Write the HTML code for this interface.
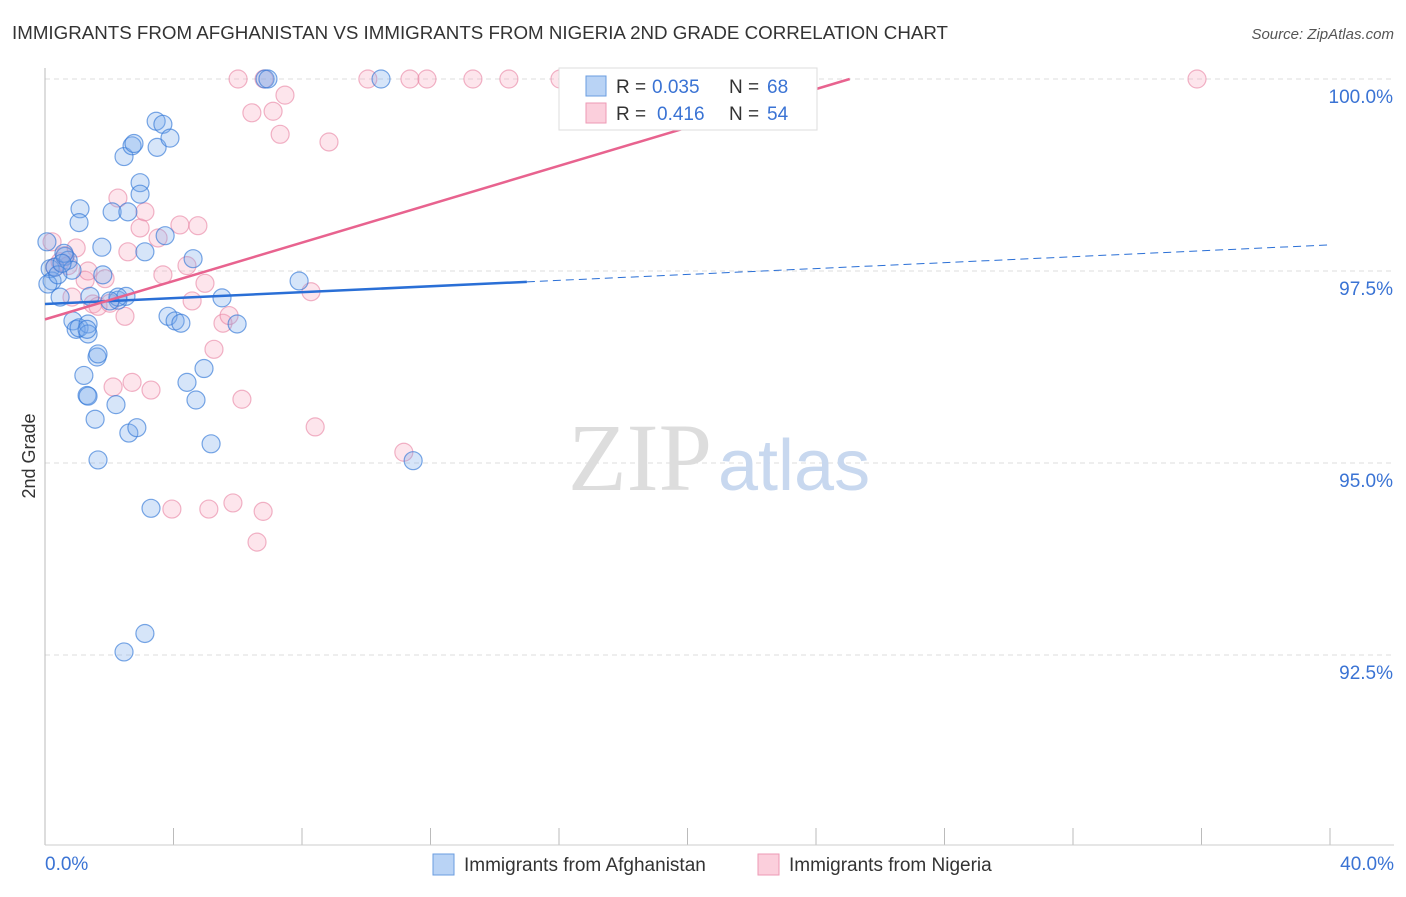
<!DOCTYPE html>
<html><head><meta charset="utf-8"><style>
body{margin:0;background:#fff;font-family:"Liberation Sans",sans-serif}
</style></head><body>
<svg width="1406" height="892" xmlns="http://www.w3.org/2000/svg">
<text x="12" y="39" font-size="18" fill="#333" textLength="936" lengthAdjust="spacingAndGlyphs">IMMIGRANTS FROM AFGHANISTAN VS IMMIGRANTS FROM NIGERIA 2ND GRADE CORRELATION CHART</text>
<text x="1394" y="39" font-size="15" fill="#555" font-style="italic" text-anchor="end">Source: ZipAtlas.com</text>
<g id="grid"></g>
<text x="712" y="490" font-size="96" fill="#ddd" text-anchor="end" font-family="Liberation Serif">ZIP</text>
<text x="718" y="490" font-size="72" fill="#c8d8ef">atlas</text>
<line x1="45" y1="68" x2="45" y2="845" stroke="#bbb"/>
<line x1="45" y1="845" x2="1394" y2="845" stroke="#ccc"/>
<g id="pts"></g>
<g id="lines"></g>
<text x="35" y="456" font-size="18" fill="#333" text-anchor="middle" transform="rotate(-90 35 456)">2nd Grade</text>
<text x="45" y="870" font-size="19" fill="#3a73d4">0.0%</text>
<text x="1394" y="870" font-size="19" fill="#3a73d4" text-anchor="end">40.0%</text>
<g>
<rect x="559" y="68" width="258" height="62" fill="#fff" stroke="#ddd"/>
<rect x="586" y="76" width="20" height="20" fill="#b9d3f5" stroke="#6a9de0"/>
<rect x="586" y="103" width="20" height="20" fill="#fbcfdc" stroke="#ee9ab5"/>
<text x="616" y="93" font-size="19" fill="#333">R =</text>
<text x="652" y="93" font-size="19" fill="#3a73d4">0.035</text>
<text x="729" y="93" font-size="19" fill="#333">N =</text>
<text x="767" y="93" font-size="19" fill="#3a73d4">68</text>
<text x="616" y="120" font-size="19" fill="#333">R =</text>
<text x="657" y="120" font-size="19" fill="#3a73d4">0.416</text>
<text x="729" y="120" font-size="19" fill="#333">N =</text>
<text x="767" y="120" font-size="19" fill="#3a73d4">54</text>
</g>
<g>
<rect x="433" y="854" width="21" height="21" fill="#b9d3f5" stroke="#6a9de0"/>
<text x="464" y="871" font-size="19" fill="#333">Immigrants from Afghanistan</text>
<rect x="758" y="854" width="21" height="21" fill="#fbcfdc" stroke="#ee9ab5"/>
<text x="789" y="871" font-size="19" fill="#333">Immigrants from Nigeria</text>
</g>
</svg>
<script>
const yTicks=[100,97.5,95,92.5];
const yTickLabels=["100.0%","97.5%","95.0%","92.5%"];
const xTicks=[0,4,8,12,16,20,24,28,32,36,40];
const afgX=[0.06,0.16,0.22,0.09,0.31,0.47,0.62,0.72,0.84,0.87,0.97,1.06,1.34,1.34,0.59,1.09,1.06,1.21,1.31,1.34,1.56,1.62,1.65,1.65,1.77,1.80,1.40,2.09,2.21,2.27,2.46,2.52,2.58,2.61,2.46,2.71,2.77,2.86,2.96,2.96,3.11,3.11,3.30,3.46,3.49,3.67,3.74,3.89,3.83,4.05,4.23,4.42,4.61,4.70,4.95,5.17,5.51,5.98,6.85,6.94,7.91,10.46,11.46,2.27,0.40,0.53,1.31,2.02];
const afgY=[97.88,97.53,97.37,97.33,97.55,97.16,97.69,97.64,97.51,96.85,96.74,96.76,96.81,96.68,97.73,98.31,98.13,96.14,95.88,95.87,95.57,96.38,96.42,95.04,97.81,97.45,97.17,98.27,95.76,97.12,98.99,97.17,98.27,95.39,92.54,99.13,99.16,95.46,98.65,98.50,92.78,97.75,94.41,99.45,99.11,99.41,97.96,99.23,96.91,96.85,96.82,96.05,97.66,95.82,96.23,95.25,97.15,96.81,100,100,97.37,100,95.03,97.16,97.45,97.60,96.74,97.11];
const nigX=[0.22,0.31,0.47,0.62,0.72,0.84,0.97,1.25,1.34,1.49,1.65,1.87,2.02,2.12,2.27,2.49,2.58,2.71,2.96,3.11,3.30,3.52,3.67,3.95,4.20,4.42,4.58,4.76,4.98,5.10,5.26,5.54,5.73,5.85,6.13,6.01,6.44,6.60,6.79,6.82,7.10,7.32,7.47,8.28,8.41,8.84,10.05,11.17,11.36,11.89,13.32,14.44,16.03,35.86];
const nigY=[97.88,97.55,97.62,97.70,97.57,97.16,97.80,97.38,97.50,97.07,97.04,97.40,97.08,95.99,98.45,96.91,97.75,96.05,98.06,98.27,95.95,97.93,97.45,94.40,98.10,97.57,97.11,98.09,97.34,94.40,96.48,96.82,96.92,94.48,95.83,100,99.56,93.97,94.37,100,99.58,99.28,99.79,97.23,95.47,99.18,100,95.14,100,100,100,100,100,100];
const NS="http://www.w3.org/2000/svg";
const X=v=>45+v/40*1285, Y=v=>79+(100-v)*76.8;
const grid=document.getElementById('grid');
yTicks.forEach((t,i)=>{
 const l=document.createElementNS(NS,'line');
 l.setAttribute('x1',45);l.setAttribute('x2',1394);l.setAttribute('y1',Y(t));l.setAttribute('y2',Y(t));
 l.setAttribute('stroke','#ddd');l.setAttribute('stroke-dasharray','5,4');
 
 
 grid.appendChild(l);
 const tx=document.createElementNS(NS,'text');
 tx.setAttribute('x',1393);tx.setAttribute('y',Y(t)+24);tx.setAttribute('text-anchor','end');
 tx.setAttribute('font-size','19');tx.setAttribute('fill','#3a73d4');tx.textContent=yTickLabels[i];
 
 
 grid.appendChild(tx);
});
xTicks.forEach(t=>{
 const l=document.createElementNS(NS,'line');
 l.setAttribute('x1',X(t));l.setAttribute('x2',X(t));l.setAttribute('y1',828);l.setAttribute('y2',845);
 l.setAttribute('stroke','#bbb');
 
 
 grid.appendChild(l);
});
const pts=document.getElementById('pts');
function draw(xs,ys,fill,stroke,name){
 xs.forEach((x,i)=>{
  const c=document.createElementNS(NS,'circle');
  c.setAttribute('cx',X(x));c.setAttribute('cy',Y(ys[i]));c.setAttribute('r',9);
  c.setAttribute('fill',fill);c.setAttribute('stroke',stroke);c.setAttribute('stroke-width','1.2');
  
  
  pts.appendChild(c);
 });
}
draw(nigX,nigY,'rgba(247,168,192,0.3)','rgba(232,130,162,0.6)','nigeria-point');
draw(afgX,afgY,'rgba(120,170,235,0.3)','rgba(50,120,215,0.65)','afghanistan-point');
const lines=document.getElementById('lines');
function line(x1,y1,x2,y2,col,w,dash,name){
 const l=document.createElementNS(NS,'line');
 l.setAttribute('x1',X(x1));l.setAttribute('y1',Y(y1));l.setAttribute('x2',X(x2));l.setAttribute('y2',Y(y2));
 l.setAttribute('stroke',col);l.setAttribute('stroke-width',w);if(dash)l.setAttribute('stroke-dasharray',dash);
 
 
 lines.appendChild(l);
}
const afgA=97.07, afgB=(97.84-97.07)/40;
line(0,afgA,15,afgA+afgB*15,'#2a6fd6',2.5,null,'afghanistan-trendline');
line(15,afgA+afgB*15,40,afgA+afgB*40,'#2a6fd6',1,'8,5','afghanistan-trendline-extension');
const nigA=96.87, nigB=(100-96.87)/25.05;
line(0,nigA,25.05,100,'#e8638f',2.5,null,'nigeria-trendline');
</script>
</body></html>
